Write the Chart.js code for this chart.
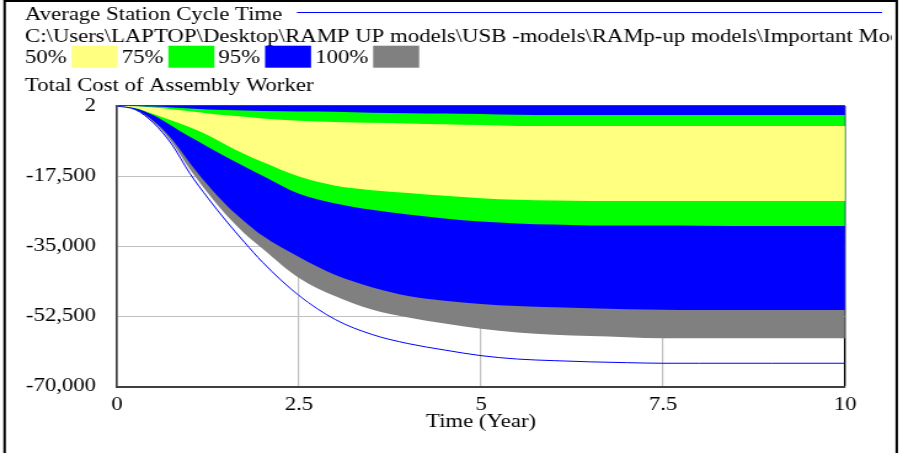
<!DOCTYPE html>
<html>
<head>
<meta charset="utf-8">
<script src="https://cdn.jsdelivr.net/npm/chart.js@4.4.1/dist/chart.umd.min.js"></script>
<style>
  body { margin: 0; background: #fff; }
</style>
</head>
<body>
<canvas id="chart" width="734" height="453" style="width:903px;height:453px"></canvas>
<script>
// time axis (years)
const years = [0, 0.25, 0.5, 0.75, 1, 1.25, 1.5, 1.75, 2, 2.5, 3, 3.5, 4, 4.5, 5, 5.5, 6, 6.5, 7, 7.5, 8, 9, 10];

// current run (blue line)
const baseRun = [0, -900, -4200, -9500, -16800, -23000, -28700, -34000, -39000, -47300, -53300, -57000, -59300, -60900, -62300, -63150, -63550, -63850, -64050, -64200, -64200, -64200, -64200];

// sensitivity bounds
const upper = [0, 0, 0, 0, 0, 0, 0, 0, 0, 0, 0, 0, 0, 0, 0, 0, 0, 0, 0, 0, 0, 0, 0];
const hi75 = [0, -30, -150, -350, -600, -850, -1000, -1150, -1250, -1400, -1450, -1700, -1800, -1900, -2000, -2200, -2250, -2250, -2250, -2250, -2250, -2250, -2250];
const hi50 = [0, -80, -350, -800, -1300, -1850, -2300, -2700, -3100, -3700, -4000, -4200, -4350, -4550, -4750, -4970, -4970, -4970, -4970, -4970, -4970, -4970, -4970];
const lo50 = [0, -500, -2000, -3600, -5300, -7300, -9700, -12000, -14000, -17600, -19900, -21000, -21700, -22400, -23000, -23400, -23600, -23700, -23700, -23700, -23700, -23700, -23700];
const lo75 = [0, -550, -2300, -4900, -7700, -10200, -12700, -15100, -17400, -21900, -24300, -25900, -27100, -28100, -28850, -29300, -29600, -29800, -29850, -29850, -29900, -29950, -29950];
const lo95 = [0, -800, -3700, -8200, -14200, -19800, -24700, -28800, -32400, -37700, -42200, -45200, -47400, -48600, -49400, -49900, -50200, -50500, -50750, -50850, -50900, -50900, -50900];
const lo100 = [0, -850, -4000, -9000, -15800, -21800, -27200, -31800, -35600, -42900, -47500, -50800, -52800, -54300, -55600, -56500, -57100, -57400, -57700, -57950, -57950, -57950, -57950];

const yTicks = [2, -17500, -35000, -52500, -70000];
const xTicks = [0, 2.5, 5, 7.5, 10];
const bandLabels = ['50%', '75%', '95%', '100%'];

const runName = 'Average Station Cycle Time';
const filePath = 'C:\\Users\\LAPTOP\\Desktop\\RAMP UP models\\USB -models\\RAMp-up models\\Important Models';
const varName = 'Total Cost of Assembly Worker';

const bandColors = ['#ffff80', '#00ff00', '#0000ff', '#808080'];
const font = { family: "'Liberation Serif', 'Times New Roman', serif", size: 18.5 };
const fontStr = "18.5px 'Liberation Serif', 'Times New Roman', serif";

const pts = arr => years.map((x, i) => ({ x: x, y: arr[i] }));

const band = (data, color) => ({
  data: pts(data), fill: '+1', backgroundColor: color, borderWidth: 0,
  pointRadius: 0, cubicInterpolationMode: 'monotone'
});
const edge = data => ({
  data: pts(data), fill: false, borderWidth: 0, pointRadius: 0, cubicInterpolationMode: 'monotone'
});

// header text, legend and frame (canvas is stretched ~1.23x sideways like the source image)
const header = {
  id: 'header',
  beforeDraw(chart) {
    const ctx = chart.ctx;
    ctx.save();
    ctx.fillStyle = '#fff';
    ctx.fillRect(0, 0, chart.width, chart.height);
    ctx.restore();
  },
  afterDraw(chart) {
    const ctx = chart.ctx;
    ctx.save();
    ctx.font = fontStr;
    ctx.fillStyle = '#000';
    ctx.textBaseline = 'alphabetic';
    ctx.fillText(runName, 20.3, 19.5);
    ctx.strokeStyle = '#0000ff';
    ctx.lineWidth = 1;
    ctx.beginPath();
    ctx.moveTo(241.4, 12.5);
    ctx.lineTo(717, 12.5);
    ctx.stroke();

    ctx.save();
    ctx.beginPath();
    ctx.rect(0, 0, 725, 60);
    ctx.clip();
    ctx.fillText(filePath, 20.3, 41.5);
    ctx.restore();

    let x = 20.3;
    bandLabels.forEach((lab, i) => {
      ctx.fillStyle = '#000';
      ctx.fillText(lab, x, 63);
      x += ctx.measureText(lab).width + 4;
      ctx.fillStyle = bandColors[i];
      ctx.fillRect(x, 45.7, 37.4, 22);
      x += 37.4 + 3.3;
    });

    ctx.fillStyle = '#000';
    ctx.fillText(varName, 20.3, 91);

    ctx.strokeStyle = '#000';
    ctx.lineWidth = 2;
    ctx.strokeRect(3.75, 1, 725.15, 470);
    ctx.restore();
  }
};

new Chart(document.getElementById('chart'), {
  type: 'line',
  data: {
    datasets: [
      { data: pts(baseRun), fill: false, borderColor: '#0000ff', borderWidth: 1, pointRadius: 0, cubicInterpolationMode: 'monotone' },
      band(hi50, bandColors[0]), edge(lo50),
      band(hi75, bandColors[1]), edge(lo75),
      band(upper, bandColors[2]), edge(lo95),
      band(upper, bandColors[3]), edge(lo100)
    ]
  },
  options: {
    responsive: false,
    devicePixelRatio: 1,
    animation: false,
    layout: { padding: { top: 106, left: 0, right: 47.1, bottom: 0 } },
    plugins: { legend: { display: false }, tooltip: { enabled: false } },
    scales: {
      x: {
        type: 'linear', min: 0, max: 10, z: 1,
        afterBuildTicks: s => { s.ticks = xTicks.map(v => ({ value: v })); },
        afterFit: s => { s.height = 66.5; },
        ticks: { padding: 8, maxRotation: 0, autoSkip: false, color: '#000', font: font },
        title: { display: true, text: 'Time (Year)', color: '#000', font: font, padding: { top: 0, bottom: 19.5 } },
        grid: {
          drawTicks: false,
          color: c => c.tick.value === 10 ? '#000' : (c.tick.value === 0 ? 'rgba(0,0,0,0)' : '#c0c0c0'),
          lineWidth: c => c.tick.value === 10 ? 1.4 : 1.2
        },
        border: { color: '#404040', width: 2 }
      },
      y: {
        type: 'linear', min: -70000, max: 2, z: 1,
        afterBuildTicks: s => { s.ticks = yTicks.map(v => ({ value: v })); },
        afterFit: s => { s.width = 95.1; },
        ticks: { padding: 17, autoSkip: false, color: '#000', font: font, callback: v => v.toLocaleString('en-US') },
        grid: {
          drawTicks: false,
          color: c => (c.tick.value === 2 || c.tick.value === -70000) ? '#404040' : '#c0c0c0',
          lineWidth: c => c.tick.value === 2 ? 1.7 : 1
        },
        border: { color: '#404040', width: 1.7 }
      }
    }
  },
  plugins: [header]
});
</script>
</body>
</html>
